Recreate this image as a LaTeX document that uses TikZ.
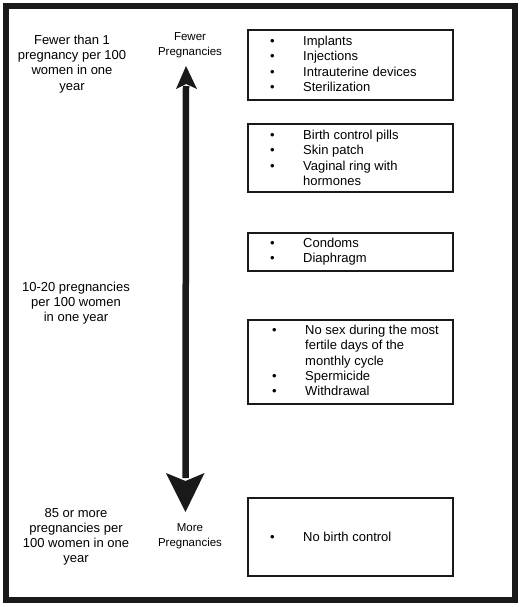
\documentclass[tikz,border=0pt]{standalone}
\usepackage{fontspec}
\setmainfont{Liberation Sans}
\begin{document}
\begin{tikzpicture}[x=1pt,y=-1pt,
  frame/.style={draw=black!90, line width=6pt, minimum width=509pt, minimum height=594pt, inner sep=0pt},
  mbox/.style={draw=black!90, line width=2pt, minimum width=205pt, inner sep=0pt},
  lefttxt/.style={align=center, inner sep=0pt, font=\fontsize{13}{15.2}\selectfont},
  axtxt/.style={align=center, inner sep=0pt, font=\fontsize{11.5}{15}\selectfont},
  list/.style={anchor=base west, inner sep=0pt, font=\fontsize{13}{15.3}\selectfont},
  head/.style={fill=black!90, draw=none}
]
\useasboundingbox (0,0) rectangle (523,607);
\node[frame] (frame) at (260.5,303) {};
% boxes
\node[mbox, minimum height=69.7pt] (b1) at (350.5,65.2) {};
\node[mbox, minimum height=68pt] (b2) at (350.5,157.5) {};
\node[mbox, minimum height=38.6pt] (b3) at (350.5,252) {};
\node[mbox, minimum height=83.7pt] (b4) at (350.5,362.2) {};
\node[mbox, minimum height=78pt] (b5) at (350.5,536.7) {};
% box contents
\node[list] (l1) at (270,45.5) {\begin{tabular}[t]{@{}p{33pt}@{}l@{}}
•&Implants\\ •&Injections\\ •&Intrauterine devices\\ •&Sterilization\end{tabular}};
\node[list] (l2) at (270,139.5) {\begin{tabular}[t]{@{}p{33pt}@{}l@{}}
•&Birth control pills\\ •&Skin patch\\ •&Vaginal ring with\\ &hormones\end{tabular}};
\node[list] (l3) at (270,247.5) {\begin{tabular}[t]{@{}p{33pt}@{}l@{}}
•&Condoms\\ •&Diaphragm\end{tabular}};
\node[list] (l4) at (272,334.5) {\begin{tabular}[t]{@{}p{33pt}@{}l@{}}
•&No sex during the most\\ &fertile days of the\\ &monthly cycle\\ •&Spermicide\\ •&Withdrawal\end{tabular}};
\node[list] (l5) at (270,541.5) {\begin{tabular}[t]{@{}p{33pt}@{}l@{}}
•&No birth control\end{tabular}};
% left texts
\node[lefttxt] (t1) at (72,64) {Fewer than 1\\pregnancy per 100\\women in one\\year};
\node[lefttxt] (t2) at (76,303) {10-20 pregnancies\\per 100 women\\in one year};
\node[lefttxt] (t3) at (76,537) {85 or more\\pregnancies per\\100 women in one\\year};
\node[axtxt] (fp) at (190,45.5) {Fewer\\Pregnancies};
\node[axtxt] (mp) at (190,536) {More\\Pregnancies};
% arrow
\coordinate (atop) at (186,66);
\coordinate (abot) at (185.5,512);
\draw[line width=6.5pt, draw=black!90] ([yshift=-20pt]atop) -- ([yshift=34pt]abot);
\fill[head] (atop) -- ++(11,23) -- ++(-11,-5) -- ++(-10,5) -- cycle;
\fill[head] (abot) -- ++(19,-39) -- ++(-19,8) -- ++(-19.5,-8) -- cycle;
\end{tikzpicture}
\end{document}
